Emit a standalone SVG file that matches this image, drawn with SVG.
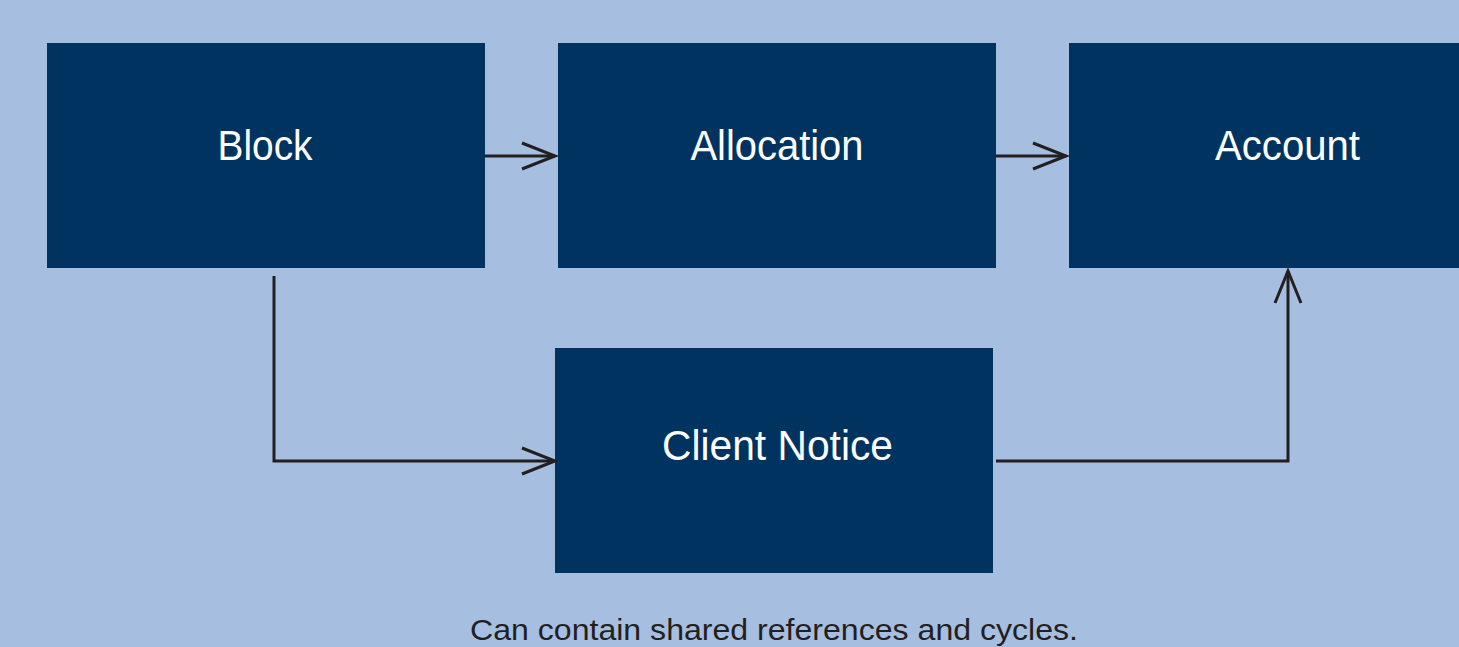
<svg xmlns="http://www.w3.org/2000/svg" width="1459" height="647" viewBox="0 0 1459 647">
  <style>
    .box { fill: #00335f; }
    .label { fill: #ffffff; font-family: "Liberation Sans", Arial, sans-serif; font-size: 42px; text-anchor: middle; }
    .wire { fill: none; stroke: #231f20; stroke-width: 3; stroke-linejoin: miter; }
    .head { fill: none; stroke: #231f20; stroke-width: 3; stroke-linecap: butt; stroke-linejoin: miter; }
    .caption { fill: #231f20; font-family: "Liberation Sans", Arial, sans-serif; font-size: 30px; text-anchor: middle; }
  </style>
  <rect width="1459" height="647" fill="#a6bedf"/>

  <g id="block">
    <rect class="box" x="47" y="43" width="438" height="225"/>
    <text class="label" x="265" y="160" textLength="95" lengthAdjust="spacingAndGlyphs">Block</text>
  </g>
  <g id="allocation">
    <rect class="box" x="558" y="43" width="438" height="225"/>
    <text class="label" x="777" y="160" textLength="173" lengthAdjust="spacingAndGlyphs">Allocation</text>
  </g>
  <g id="account">
    <rect class="box" x="1069" y="43" width="438" height="225"/>
    <text class="label" x="1287.5" y="160" textLength="145" lengthAdjust="spacingAndGlyphs">Account</text>
  </g>
  <g id="client-notice">
    <rect class="box" x="555" y="348" width="438" height="225"/>
    <text class="label" x="777.5" y="460" textLength="231" lengthAdjust="spacingAndGlyphs">Client Notice</text>
  </g>

  <g id="connectors">
    <!-- Block to Allocation -->
    <line class="wire" x1="485" y1="156" x2="555" y2="156"/>
    <polyline class="head" points="522,143 555,156 522,169"/>
    <!-- Allocation to Account -->
    <line class="wire" x1="996" y1="156" x2="1066" y2="156"/>
    <polyline class="head" points="1033,143 1066,156 1033,169"/>
    <!-- Block to Client Notice -->
    <polyline class="wire" points="274,276 274,461 554,461"/>
    <polyline class="head" points="522,448 555,461 522,474"/>
    <!-- Client Notice to Account -->
    <polyline class="wire" points="996,461 1288,461 1288,271"/>
    <polyline class="head" points="1275,303 1288,271 1301,303"/>
  </g>

  <text class="caption" x="774" y="640" textLength="608" lengthAdjust="spacingAndGlyphs">Can contain shared references and cycles.</text>
</svg>
